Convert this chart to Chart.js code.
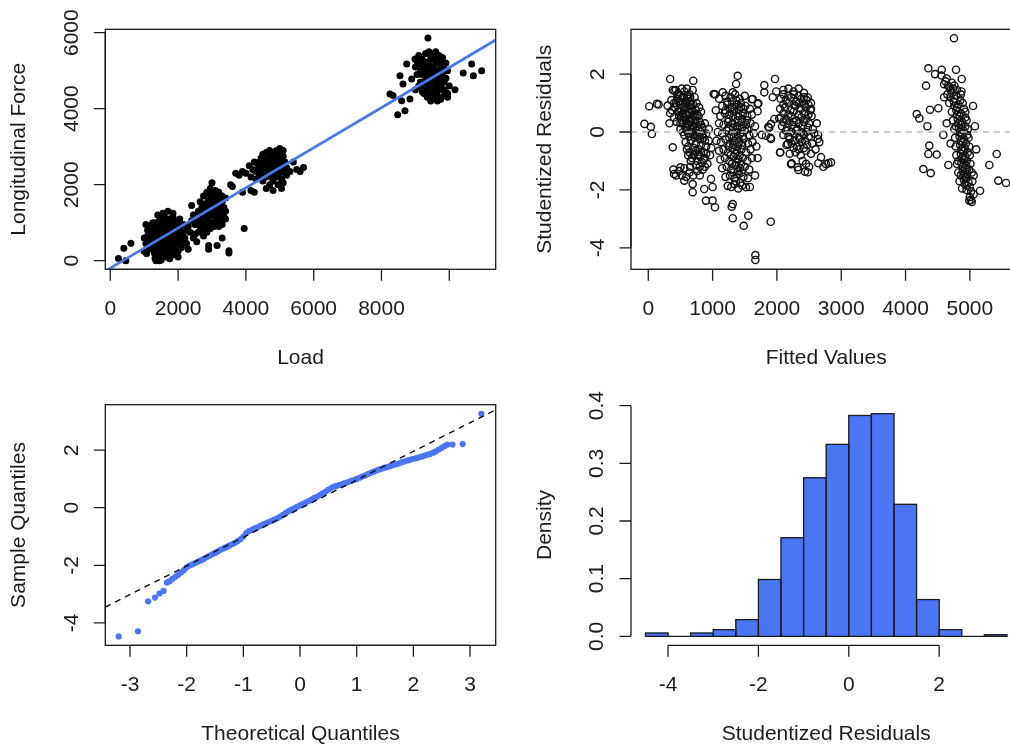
<!DOCTYPE html>
<html>
<head>
<meta charset="utf-8">
<title>Longitudinal force model diagnostics</title>
<script src="https://cdn.jsdelivr.net/npm/chart.js@4.4.0/dist/chart.umd.min.js"></script>
<style>
  html, body { margin: 0; padding: 0; background: #fff; overflow: hidden; }
  body { width: 1010px; height: 744px; position: relative; }
  canvas { position: absolute; }
</style>
</head>
<body>
<canvas id="fitPlot" width="505" height="372" style="left:0;top:0"></canvas>
<canvas id="residPlot" width="530" height="372" style="left:505px;top:0"></canvas>
<canvas id="qqPlot" width="505" height="372" style="left:0;top:372px"></canvas>
<canvas id="histPlot" width="530" height="372" style="left:505px;top:372px"></canvas>
<script>
// ---- data -------------------------------------------------------------

// load vs longitudinal force, one [load, force] pair per test
const loadForce = [
  // light loads
  [240,60],[400,330],[460,0],[610,460],[1070,190],[1320,60],[1450,0],
  [1050,950],[1100,800],[1150,900],[1200,700],[1250,850],[1300,950],[1350,1000],[1400,900],[1450,1050],[1500,1100],
  [1550,1000],[1600,1150],[1650,1050],[1700,1300],[1750,1100],[1800,1000],[1850,1150],[1900,1050],[1950,900],[2000,1000],
  [1100,650],[1150,550],[1200,600],[1250,500],[1300,650],[1350,750],[1400,700],[1450,800],[1500,850],[1550,750],
  [1600,800],[1650,900],[1700,850],[1750,900],[1800,800],[1850,850],[1900,750],[1950,800],[2000,700],[2050,850],
  [2100,750],[2150,650],[1200,400],[1300,450],[1350,350],[1400,500],[1450,550],[1500,600],[1550,500],[1600,550],
  [1650,600],[1700,650],[1750,550],[1800,600],[1850,500],[1900,550],[1950,600],[2000,450],[2100,500],[2200,600],
  [1300,200],[1400,250],[1450,100],[1500,300],[1550,200],[1600,350],[1650,250],[1700,400],[1750,300],[1800,200],
  [1850,350],[1900,300],[2000,250],[2100,350],[2250,450],[2300,300],[1350,0],[1500,20],[1650,100],[1750,50],
  [1900,150],[2000,100],[1000,600],[1050,450],[1000,250],[1150,350],[1250,1000],[1400,1200],[1550,1250],[1850,1250],
  [2050,1100],[2150,950],[2250,800],
  [1320,800],[1380,600],[1420,850],[1480,700],[1520,950],[1580,650],[1620,700],[1680,750],[1720,500],[1780,700],
  [1820,900],[1880,650],[1420,400],[1520,450],[1620,450],[1700,300],[1800,450],[1920,450],[1280,750],[1180,800],
  [1220,300],[1980,700],[2050,600],[1250,650],[1700,1000],[1600,950],[1450,950],[1350,550],
  // middle loads
  [2400,1050],[2450,1200],[2500,950],[2550,1100],[2600,1300],[2650,1200],[2700,1400],[2750,1300],[2800,1500],
  [2850,1400],[2900,1600],[2950,1500],[3000,1700],[3050,1600],[3100,1500],[3150,1700],[3200,1600],[3250,1450],
  [3300,1550],[3350,1400],[3400,1300],[2600,1000],[2650,900],[2700,1100],[2750,1000],[2800,1200],[2850,1100],
  [2900,1300],[2950,1200],[3000,1350],[3050,1250],[3100,1400],[3150,1300],[3200,1200],[3250,1350],[3300,1250],
  [3350,1150],[3400,1100],[2500,700],[2600,750],[2700,800],[2750,650],[2800,900],[2850,750],[2900,950],[2950,850],
  [3000,1000],[3050,900],[3100,1050],[3150,1000],[3200,900],[3300,950],[2650,1550],[2750,1700],[2850,1800],
  [2950,1900],[3000,2050],[3100,1850],[3200,1800],[3300,1700],[3400,1650],[2300,900],[2350,750],[2450,600],
  [2550,500],[2900,400],[2900,300],[3150,400],[3300,600],[3500,200],[3500,260],[3950,850],[2400,1450],
  [2700,1250],[2800,1350],[2900,1450],[3000,1550],[3100,1650],[2750,1150],[2850,1250],[2950,1350],[3050,1450],
  [3150,1550],[3250,1600],[2800,1050],[2900,1150],[3000,1250],[3100,1150],[3200,1350],[3250,1050],[2650,1050],
  [2900,1700],[3050,1800],[3350,1300],
  // upper-middle loads
  [3800,2250],[3900,2350],[4000,2300],[4100,2500],[4150,2200],[4200,2400],[4250,2600],[4300,2350],[4350,2550],
  [4400,2450],[4450,2700],[4500,2550],[4550,2400],[4600,2650],[4650,2500],[4700,2750],[4750,2600],[4800,2450],
  [4850,2700],[4900,2550],[4950,2800],[5000,2650],[5050,2500],[5100,2750],[5150,2600],[5200,2450],[4300,2150],
  [4400,2250],[4500,2100],[4550,2300],[4600,2200],[4700,2350],[4750,2200],[4800,2100],[4850,2300],[4900,2200],
  [4950,2400],[5000,2300],[5050,2150],[5100,2350],[5200,2250],[4500,2800],[4600,2850],[4700,2900],[4800,2850],
  [4900,2900],[5000,2950],[5100,2900],[4600,1900],[4700,2000],[4800,1850],[4950,2000],[5100,2050],[5050,1900],
  [3700,2300],[3600,1950],[3900,1800],[4250,1800],[4150,1850],[5400,2600],[5500,2400],[5600,2350],[5700,2450],
  [5300,2350],[3550,2000],
  [4450,2400],[4550,2550],[4650,2600],[4750,2500],[4850,2450],[4950,2550],[5050,2600],[4600,2450],[4700,2450],
  [4800,2650],[4900,2650],[5000,2450],[4500,2350],[4400,2600],[4650,2350],[4750,2750],[4850,2800],[4950,2300],
  [5150,2450],[4350,2400],
  // heavy loads
  [9100,5200],[9150,5000],[9200,5300],[9250,5100],[9300,4900],[9350,5200],[9400,5000],[9450,5300],[9500,5100],
  [9550,4900],[9600,5200],[9650,5000],[9700,5300],[9750,5100],[9800,4900],[9150,4700],[9250,4600],[9300,4750],
  [9350,4500],[9400,4700],[9450,4600],[9500,4800],[9550,4550],[9600,4700],[9650,4500],[9700,4750],[9750,4600],
  [9800,4700],[9850,4500],[9250,4400],[9350,4300],[9450,4400],[9550,4300],[9650,4350],[9750,4250],[9850,4350],
  [9950,4400],[9100,5400],[9300,5450],[9400,5500],[9500,5450],[9600,5500],[9700,5400],[9800,5350],[9900,5200],
  [9950,5000],[9900,4800],[10000,4600],[9950,4300],[9000,5100],[9050,4900],[9100,4600],[9000,4500],[9200,4450],
  [9450,4200],[9650,4200],[9370,5860],[10660,5176],[10410,4940],[10710,4868],[10955,5000],[10168,4500],[8250,4387],
  [8340,4350],[8546,4870],[8634,4650],[8595,4210],[8693,3947],[8478,3842],[8840,4255],[8890,4780],[8743,5176],
  [8988,5308],[9050,5250],[9250,5250],[9550,5350],[9850,5050],
  [9200,4900],[9300,5050],[9400,5150],[9500,4950],[9600,4850],[9700,4950],[9800,5200],[9400,4850],[9500,4600],
  [9600,4400],[9700,4500],[9300,4600],[9200,5100],[9450,5400],[9650,5350],[9750,4800],[9850,4700],[9550,5050],
  [9350,4950],[9700,4650]
];
// least-squares fit: force = intercept + slope * load
const fitCoef = [-195, 0.528];

// fitted value vs studentized residual
const fittedResid = [
  [-60,0.28],[40,0.18],[55,-0.07],[15,0.89],[135,0.97],[160,0.95],[300,0.91],[340,1.83],[700,1.77],[405,1.43],
  [380,-0.53],[340,0.65],[330,0.3],
  [380,1.45],[430,1.45],[470,1.3],[520,1.5],[560,1.4],[600,1.5],[640,1.3],[690,1.45],[720,1.2],
  [360,1.1],[400,1.0],[450,1.15],[490,1.05],[530,1.2],[570,1.0],[610,1.15],[650,1.05],[700,0.95],[750,1.0],[790,0.85],
  [370,0.75],[420,0.85],[460,0.7],[500,0.8],[540,0.65],[580,0.85],[620,0.7],[660,0.8],[700,0.6],[740,0.75],[780,0.55],[820,0.7],
  [400,0.5],[440,0.35],[480,0.55],[520,0.4],[560,0.5],[600,0.3],[640,0.45],[680,0.25],[720,0.4],[760,0.2],[800,0.35],
  [840,0.15],[880,0.3],[500,0.1],[540,0.0],[580,0.15],[620,-0.05],[660,0.1],[700,-0.1],[740,0.05],[780,-0.15],
  [820,0.0],[860,-0.2],[900,-0.05],[940,0.1],[580,-0.35],[620,-0.5],[660,-0.3],[700,-0.55],[740,-0.4],[780,-0.6],
  [820,-0.45],[860,-0.7],[900,-0.5],[940,-0.3],[980,-0.55],[620,-0.8],[680,-0.9],[720,-0.75],[760,-1.0],[800,-0.85],
  [840,-1.05],[880,-0.9],[920,-1.1],[960,-0.8],
  [450,1.3],[500,1.25],[550,1.2],[600,1.25],[650,1.2],[430,1.0],[510,0.95],[550,0.9],[590,1.05],[630,0.9],[670,0.95],
  [480,0.7],[520,0.6],[560,0.75],[600,0.6],[640,0.65],[680,0.7],[720,0.55],[760,0.6],[500,0.3],[540,0.3],[580,0.4],
  [620,0.25],[660,0.35],[700,0.2],[740,0.3],[780,0.1],[820,0.25],[560,-0.1],[600,0.05],[640,-0.15],[680,0.0],
  [720,-0.2],[760,-0.1],[800,-0.25],[840,-0.1],[880,-0.3],[600,-0.6],[640,-0.7],[700,-0.8],[740,-0.65],[780,-0.8],
  [820,-0.7],[860,-0.95],[900,-0.75],[660,-1.0],[740,-1.15],[800,-1.2],[880,-1.2],
  [390,-1.3],[400,-1.45],[430,-1.5],[480,-1.35],[500,-1.22],[520,-1.5],[560,-1.68],[590,-1.55],[640,-1.4],[690,-1.8],
  [690,-2.08],[700,-1.5],[760,-1.35],[800,-1.5],[846,-1.3],[870,-1.97],[897,-2.37],[975,-1.62],[1000,-2.37],
  [1037,-2.6],[1000,-1.9],[650,-1.2],[560,-1.25],
  [1200,1.25],[1280,1.2],[1350,1.3],[1420,1.15],[1500,1.25],
  [1150,0.9],[1230,0.95],[1300,0.85],[1370,0.95],[1440,0.85],[1510,0.9],[1580,0.8],
  [1120,0.55],[1190,0.65],[1260,0.6],[1330,0.7],[1400,0.55],[1470,0.65],[1540,0.55],[1610,0.6],
  [1100,0.3],[1170,0.25],[1240,0.35],[1310,0.3],[1380,0.2],[1450,0.35],[1520,0.25],[1590,0.3],[1660,0.2],
  [1080,0.0],[1150,-0.05],[1220,0.05],[1290,-0.1],[1360,0.0],[1430,-0.05],[1500,0.05],[1570,-0.1],[1640,-0.05],
  [1060,-0.3],[1130,-0.35],[1200,-0.25],[1270,-0.4],[1340,-0.3],[1410,-0.35],[1480,-0.25],[1550,-0.4],[1620,-0.35],
  [1100,-0.65],[1170,-0.6],[1240,-0.7],[1310,-0.55],[1380,-0.65],[1450,-0.6],[1520,-0.7],[1590,-0.6],
  [1120,-0.95],[1190,-0.9],[1260,-1.0],[1330,-0.85],[1400,-0.95],[1470,-0.9],[1540,-1.0],[1610,-0.9],
  [1150,-1.25],[1220,-1.2],[1290,-1.3],[1360,-1.15],[1430,-1.25],[1500,-1.2],[1570,-1.3],
  [1200,-1.55],[1270,-1.5],[1340,-1.6],[1410,-1.45],[1480,-1.55],[1550,-1.6],
  [1235,-1.86],[1290,-1.9],[1340,-1.8],[1400,-1.95],[1460,-1.85],[1520,-1.91],[1580,-1.9],
  [1230,1.05],[1300,1.05],[1370,1.1],[1440,1.0],[1200,0.75],[1270,0.8],[1340,0.8],[1410,0.75],[1480,0.8],
  [1250,0.45],[1320,0.5],[1390,0.4],[1460,0.45],[1530,0.4],[1250,0.15],[1320,0.15],[1390,0.1],[1460,0.15],
  [1540,0.1],[1260,-0.2],[1330,-0.15],[1400,-0.2],[1470,-0.15],[1250,-0.5],[1320,-0.45],[1390,-0.5],[1460,-0.45],
  [1280,-0.8],[1350,-0.75],[1420,-0.8],[1300,-1.1],[1370,-1.05],[1440,-1.1],[1320,-1.4],[1390,-1.35],[1450,-1.4],
  [1360,-1.7],[1430,-1.75],
  [1390,1.94],[1365,1.66],[1313,1.37],[1157,1.37],[1017,1.31],[1624,1.14],[1701,0.97],[1711,0.99],[1700,0.72],
  [1608,1.13],[1297,-2.58],[1313,-2.49],[1313,-2.98],[1484,-3.24],[1555,-2.89],[1904,-3.10],[1665,-4.25],[1665,-4.42],
  [1040,1.3],[1100,1.15],[1050,0.75],[1680,-0.5],[1700,-0.9],[1660,-1.5],
  [2100,1.45],[2180,1.5],[2260,1.4],[2340,1.5],[2420,1.35],
  [2060,1.15],[2140,1.1],[2220,1.2],[2300,1.05],[2380,1.15],[2460,1.1],[2530,1.0],
  [2050,0.8],[2130,0.85],[2210,0.75],[2290,0.9],[2370,0.8],[2450,0.85],[2520,0.75],
  [2060,0.5],[2140,0.45],[2220,0.55],[2300,0.4],[2380,0.5],[2460,0.45],[2540,0.55],
  [2080,0.2],[2160,0.15],[2240,0.25],[2320,0.1],[2400,0.2],[2480,0.15],[2560,0.1],
  [2100,-0.1],[2180,-0.15],[2260,-0.05],[2340,-0.2],[2420,-0.1],[2500,-0.15],[2580,-0.05],
  [2150,-0.45],[2230,-0.4],[2310,-0.5],[2390,-0.35],[2470,-0.45],[2550,-0.4],
  [2200,-0.75],[2290,-0.7],[2370,-0.8],[2450,-0.65],[2530,-0.75],
  [2230,-1.08],[2333,-1.31],[2437,-1.37],[2453,-1.1],[2479,-1.39],[2323,-1.22],[2219,-1.11],[2400,-1.0],[2500,-1.2],
  [2100,1.3],[2180,1.25],[2260,1.3],[2340,1.25],[2420,1.2],[2100,0.95],[2180,1.0],[2260,0.95],[2340,1.0],
  [2420,0.95],[2490,0.95],[2100,0.65],[2180,0.6],[2260,0.7],[2340,0.6],[2420,0.65],[2490,0.6],[2100,0.35],
  [2180,0.3],[2260,0.35],[2340,0.3],[2420,0.35],[2500,0.3],[2140,0.05],[2220,0.0],[2300,0.05],[2380,0.0],
  [2460,0.0],[2200,-0.25],[2280,-0.3],[2360,-0.25],[2440,-0.3],[2260,-0.55],[2340,-0.6],[2420,-0.55],
  [1804,1.62],[1804,1.37],[1970,1.83],[1935,1.2],[1990,1.4],[2037,0.47],[1960,0.45],[1908,0.28],[1880,0.15],
  [1830,-0.13],[1908,-0.24],[1766,-0.10],[1866,0.18],[1900,-0.2],[2168,-0.41],[2053,-0.70],[2048,-0.71],[2479,1.20],
  [2530,0.79],[2635,-0.24],[2640,-0.1],[2660,-0.35],[2686,-0.87],[2764,-1.11],[2842,-1.05],[2800,-1.08],[2722,-1.20],
  [2644,-1.08],[2600,-0.6],[2620,0.3],
  [4560,1.95],[4640,1.85],[4600,1.65],[4680,1.55],[4760,1.6],[4650,1.3],[4720,1.35],[4790,1.25],[4860,1.3],
  [4680,1.0],[4750,1.05],[4820,0.95],[4890,1.0],[4720,0.7],[4790,0.75],[4860,0.65],[4930,0.7],
  [4740,0.4],[4810,0.45],[4880,0.35],[4950,0.4],[4760,0.1],[4830,0.15],[4900,0.05],[4970,0.1],
  [4770,-0.2],[4840,-0.15],[4910,-0.25],[4980,-0.2],[4780,-0.5],[4850,-0.45],[4920,-0.55],[4990,-0.5],
  [4790,-0.8],[4860,-0.75],[4930,-0.85],[5000,-0.8],[4800,-1.1],[4870,-1.05],[4940,-1.15],[5010,-1.1],
  [4820,-1.4],[4890,-1.35],[4960,-1.45],[5030,-1.4],[4840,-1.7],[4910,-1.65],[4980,-1.75],[5040,-1.7],
  [4880,-1.95],[4950,-2.0],[5020,-2.05],[5000,-2.25],[5020,-2.35],[5030,-2.42],[5060,-2.15],
  [4620,1.75],[4700,1.45],[4760,1.15],[4800,0.85],[4840,0.55],[4870,0.25],[4880,-0.05],[4890,-0.35],[4900,-0.65],
  [4910,-0.95],[4920,-1.25],[4930,-1.55],[4950,-1.85],[4850,1.1],[4930,0.5],[4960,-0.1],[4970,-0.7],[4990,-1.3],
  [5000,-1.9],[4740,1.5],[4780,0.2],[4820,-1.0],[4860,-1.5],
  [4660,1.6],[4700,1.2],[4760,0.9],[4800,0.6],[4820,0.3],[4840,0.0],[4860,-0.3],[4870,-0.6],[4880,-0.9],
  [4890,-1.2],[4900,-1.5],[4920,-1.8],[4940,-1.6],[4950,-1.3],[4950,-1.0],[4940,-0.4],[4930,0.2],[4910,0.8],
  [4870,1.4],[4800,1.45],[4720,1.7],
  [4754,3.24],[4355,2.20],[4563,2.15],[4785,2.15],[4459,2.0],[4319,1.60],[4874,1.83],[4174,0.62],[4215,0.47],
  [4381,0.77],[4510,0.82],[4340,0.20],[4588,-0.10],[4370,-0.47],[4355,-0.76],[4485,-0.78],[4277,-1.28],[4392,-1.42],
  [4666,-1.14],[5418,-0.76],[5303,-1.14],[5443,-1.68],[5563,-1.76],[5159,-2.03],[4992,-2.37],[4600,1.2],[4640,0.3],
  [4700,-0.4],[5050,0.9],[5080,0.2],[5100,-0.6],[5060,-1.5]
];

// normal Q-Q of the studentized residuals
const qqTheoretical = [
  -3.20,-2.86,-2.68,-2.56,-2.48,-2.41,
  -2.35,-2.30,-2.25,-2.20,-2.15,-2.10,-2.05,-2.00,-1.95,-1.90,-1.85,-1.80,-1.75,-1.70,-1.65,-1.60,-1.55,
  -1.50,-1.45,-1.40,-1.35,-1.30,-1.25,-1.20,-1.15,-1.10,-1.05,-1.00,-0.95,-0.90,-0.85,-0.80,-0.75,-0.70,
  -0.65,-0.60,-0.55,-0.50,-0.45,-0.40,-0.35,-0.30,-0.25,-0.20,-0.15,-0.10,-0.05,0.00,0.05,0.10,0.15,
  0.20,0.25,0.30,0.35,0.40,0.45,0.50,0.55,0.60,0.65,0.70,0.75,0.80,0.85,0.90,0.95,1.00,1.05,1.10,1.15,
  1.20,1.25,1.30,1.35,1.40,1.45,1.50,1.55,1.60,1.65,1.70,1.75,1.80,1.85,1.90,1.95,2.00,2.05,2.10,2.15,
  2.20,2.25,2.30,2.35,2.40,2.45,2.50,2.55,
  2.60,2.69,2.87,3.20
];
const qqSample = [
  -4.47,-4.29,-3.25,-3.12,-2.98,-2.89,
  -2.60,-2.55,-2.47,-2.40,-2.33,-2.25,-2.17,-2.07,-2.01,-1.97,-1.92,-1.87,-1.83,-1.78,-1.72,-1.67,-1.62,
  -1.57,-1.52,-1.46,-1.41,-1.37,-1.32,-1.27,-1.22,-1.16,-1.10,-1.00,-0.88,-0.81,-0.77,-0.72,-0.68,-0.63,
  -0.58,-0.54,-0.50,-0.46,-0.41,-0.37,-0.31,-0.25,-0.18,-0.12,-0.07,-0.02,0.03,0.08,0.13,0.18,0.23,
  0.28,0.33,0.38,0.44,0.50,0.56,0.62,0.68,0.73,0.76,0.79,0.82,0.86,0.89,0.93,0.96,1.00,1.04,1.08,1.12,
  1.17,1.21,1.25,1.29,1.33,1.36,1.39,1.42,1.45,1.48,1.51,1.54,1.58,1.61,1.64,1.67,1.70,1.72,1.75,1.78,
  1.81,1.84,1.87,1.91,1.96,2.02,2.08,2.14,
  2.19,2.19,2.21,3.26
];
const qqLine = [-0.033, 0.994];

// histogram of studentized residuals
const histBreaks = [-4.5,-4,-3.5,-3,-2.5,-2,-1.5,-1,-0.5,0,0.5,1,1.5,2,2.5,3,3.5];
const histDensity = [0.0058,0,0.0058,0.0116,0.029,0.0986,0.171,0.275,0.333,0.383,0.386,0.229,0.0638,0.0116,0,0.0029];

// axis ticks
const loadTicks = [0,2000,4000,6000,8000,10000];
const loadLabels = ['0','2000','4000','6000','8000',''];
const forceTicks = [0,2000,4000,6000];
const fittedTicks = [0,1000,2000,3000,4000,5000];
const residTicks = [-4,-2,0,2];
const quantTicks = [-3,-2,-1,0,1,2,3];
const densityTicks = [0,0.1,0.2,0.3,0.4];
const densityLabels = ['0.0','0.1','0.2','0.3','0.4'];

// ---- drawing ------------------------------------------------------------

const INK = '#1c1c1c';
const BLUE = '#4a76f5';
const FONT = '21px "Liberation Sans", Arial, sans-serif';
const TICK_LEN = 11.5;

Chart.defaults.animation = false;
Chart.defaults.events = [];
Chart.defaults.plugins.legend.display = false;
Chart.defaults.plugins.tooltip.enabled = false;

// base-graphics style axes: line from first to last tick, outward ticks,
// labels along the axis, optional box around the plot region
function rAxes(spec) {
  return {
    id: 'rAxes',
    afterDraw(chart) {
      const ctx = chart.ctx, a = chart.chartArea;
      const sx = chart.scales.x, sy = chart.scales.y;
      ctx.save();
      ctx.strokeStyle = INK;
      ctx.fillStyle = INK;
      ctx.lineWidth = 1.3;
      ctx.font = FONT;
      if (spec.box) ctx.strokeRect(a.left, a.top, a.right - a.left, a.bottom - a.top);

      const xp = spec.xTicks.map(v => sx.getPixelForValue(v));
      ctx.beginPath();
      ctx.moveTo(xp[0], a.bottom);
      ctx.lineTo(xp[xp.length - 1], a.bottom);
      xp.forEach(p => { ctx.moveTo(p, a.bottom); ctx.lineTo(p, a.bottom + TICK_LEN); });
      ctx.stroke();
      ctx.textAlign = 'center';
      ctx.textBaseline = 'alphabetic';
      xp.forEach((p, i) => {
        const t = spec.xLabels ? spec.xLabels[i] : String(spec.xTicks[i]);
        if (t) ctx.fillText(t, p, a.bottom + 46);
      });
      ctx.fillText(spec.xTitle, (a.left + a.right) / 2, a.bottom + 95);

      const yp = spec.yTicks.map(v => sy.getPixelForValue(v));
      ctx.beginPath();
      ctx.moveTo(a.left, yp[0]);
      ctx.lineTo(a.left, yp[yp.length - 1]);
      yp.forEach(p => { ctx.moveTo(a.left, p); ctx.lineTo(a.left - TICK_LEN, p); });
      ctx.stroke();
      yp.forEach((p, i) => {
        const t = spec.yLabels ? spec.yLabels[i] : String(spec.yTicks[i]);
        ctx.save();
        ctx.translate(a.left - (spec.yLabelGap || 27), p);
        ctx.rotate(-Math.PI / 2);
        ctx.fillText(t, 0, 0);
        ctx.restore();
      });
      ctx.translate(a.left - 80.5, (a.top + a.bottom) / 2);
      ctx.rotate(-Math.PI / 2);
      ctx.fillText(spec.yTitle, 0, 0);
      ctx.restore();
    }
  };
}

function hiddenScales(xMin, xMax, yMin, yMax) {
  return {
    x: { type: 'linear', display: false, min: xMin, max: xMax, offset: false },
    y: { type: 'linear', display: false, min: yMin, max: yMax }
  };
}

function abline(coef, xMin, xMax) {
  return [xMin, xMax].map(x => ({ x: x, y: coef[0] + coef[1] * x }));
}

const pts = pairs => pairs.map(p => ({ x: p[0], y: p[1] }));

// load vs force with fitted line
const fitRange = [-147, 11369, -226, 6089];
new Chart(document.getElementById('fitPlot'), {
  type: 'scatter',
  data: {
    datasets: [
      { type: 'line', data: abline(fitCoef, fitRange[0], fitRange[1]), borderColor: '#4a78e6',
        borderWidth: 2.7, pointRadius: 0, clip: 0, order: 0 },
      { data: pts(loadForce), pointRadius: 3.5, pointBorderWidth: 0,
        pointBackgroundColor: '#000', order: 1 }
    ]
  },
  options: {
    responsive: false,
    layout: { padding: { left: 105.3, top: 29.3, right: 9.3, bottom: 102.7 } },
    scales: hiddenScales.apply(null, fitRange)
  },
  plugins: [rAxes({ box: true, xTicks: loadTicks, xLabels: loadLabels, yTicks: forceTicks,
    xTitle: 'Load', yTitle: 'Longitudinal Force' })]
});

// residuals vs fitted
const residRange = [-269, 5802, -4.743, 3.547];
new Chart(document.getElementById('residPlot'), {
  type: 'scatter',
  data: {
    datasets: [
      { type: 'line', data: [{ x: residRange[0], y: 0 }, { x: residRange[1], y: 0 }], borderColor: '#bdbdbd',
        borderWidth: 1.4, borderDash: [6, 5], pointRadius: 0, clip: 0, order: 0 },
      { data: pts(fittedResid), pointRadius: 3.6, pointBorderWidth: 1.4, pointBorderColor: '#111',
        pointBackgroundColor: 'rgba(0,0,0,0)', order: 1 }
    ]
  },
  options: {
    responsive: false,
    layout: { padding: { left: 126, top: 29.3, right: 13.6, bottom: 102.7 } },
    scales: hiddenScales.apply(null, residRange)
  },
  plugins: [rAxes({ box: true, xTicks: fittedTicks, yTicks: residTicks,
    xTitle: 'Fitted Values', yTitle: 'Studentized Residuals' })]
});

// normal Q-Q
const qqRange = [-3.436, 3.453, -4.778, 3.576];
new Chart(document.getElementById('qqPlot'), {
  type: 'scatter',
  data: {
    datasets: [
      { type: 'line', data: abline(qqLine, qqRange[0], qqRange[1]), borderColor: '#111',
        borderWidth: 1.4, borderDash: [6, 5], pointRadius: 0, clip: 0, order: 0 },
      { data: qqTheoretical.map((q, i) => ({ x: q, y: qqSample[i] })), pointRadius: 3.1,
        pointBorderWidth: 0, pointBackgroundColor: BLUE, order: 1 }
    ]
  },
  options: {
    responsive: false,
    layout: { padding: { left: 105.3, top: 32.7, right: 9.3, bottom: 98.7 } },
    scales: hiddenScales.apply(null, qqRange)
  },
  plugins: [rAxes({ box: true, xTicks: quantTicks, yTicks: residTicks,
    xTitle: 'Theoretical Quantiles', yTitle: 'Sample Quantiles' })]
});

// histogram; outlines stroked on the bar elements so shared edges stay single
const histOutline = {
  id: 'histOutline',
  afterDatasetsDraw(chart) {
    const ctx = chart.ctx;
    ctx.save();
    ctx.strokeStyle = INK;
    ctx.lineWidth = 1.3;
    chart.getDatasetMeta(0).data.forEach(el => {
      const b = el.getProps(['x', 'y', 'base', 'width'], true);
      ctx.strokeRect(b.x - b.width / 2, b.y, b.width, b.base - b.y);
    });
    ctx.restore();
  }
};
const histRange = [-4.82, 3.82, -0.0155, 0.4017];
const histScales = hiddenScales.apply(null, histRange);
histScales.x.ticks = { stepSize: 1 };
new Chart(document.getElementById('histPlot'), {
  type: 'bar',
  data: {
    datasets: [{
      data: histDensity.map((d, i) => ({ x: (histBreaks[i] + histBreaks[i + 1]) / 2, y: d })),
      backgroundColor: BLUE, borderWidth: 0, barPercentage: 1, categoryPercentage: 1
    }]
  },
  options: {
    responsive: false,
    layout: { padding: { left: 126, top: 32.7, right: 13.6, bottom: 98.7 } },
    scales: histScales
  },
  plugins: [histOutline, rAxes({ box: false, xTicks: [-4, -2, 0, 2], yTicks: densityTicks,
    yLabels: densityLabels, yLabelGap: 28.5, xTitle: 'Studentized Residuals', yTitle: 'Density' })]
});
</script>
</body>
</html>
